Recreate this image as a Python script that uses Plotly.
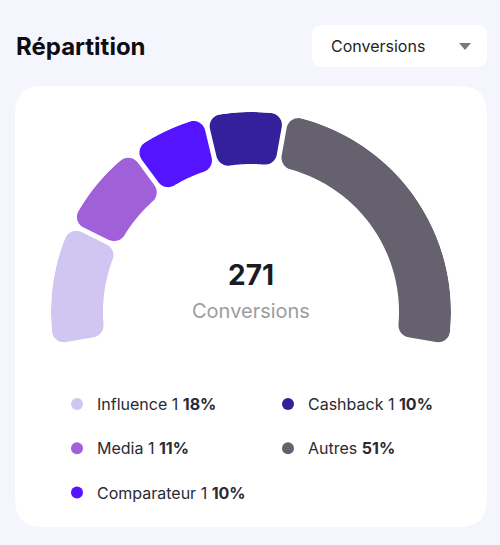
import numpy as np
import plotly.graph_objects as go

# ---------------- data ----------------
categories = ["Influence", "Media", "Comparateur", "Cashback", "Autres"]
arc_share = [18.0, 13.8, 11.5, 11.8, 44.9]      # share of the gauge arc
share_pct = [18, 11, 10, 10, 51]                # percentages shown in the legend
separators = ["1", "1", "1", "1", ""]
colors = ["#D0C6F1", "#A060D8", "#5514FF", "#33209A", "#65616F"]
total_value = 271
metric = "Conversions"
title = "Répartition"

# ---------------- layout constants ----------------
W, H = 500, 545
FONT = "Inter"
CX, CY = 251, 312          # gauge centre (px)
R_OUT, R_IN = 200.0, 148.0
START, SPAN = 190.0, 200.0  # degrees, going clockwise from START
GAP, CR = 5.0, 12.0


def px(x):
    return x / W


def py(y):
    return 1 - y / H


def fillet_pts(C, A, B, r, n=10):
    a = np.arctan2(A[1] - C[1], A[0] - C[0])
    b = np.arctan2(B[1] - C[1], B[0] - C[0])
    d = (b - a + np.pi) % (2 * np.pi) - np.pi
    t = np.linspace(0, 1, n)
    return [C + r * np.array([np.cos(a + d * k), np.sin(a + d * k)]) for k in t]


def corner(phi, hi_edge, rad, outer):
    s = GAP / 2
    a = np.radians(phi)
    u = np.array([np.cos(a), np.sin(a)])
    if hi_edge:
        nrm = np.array([np.sin(a), -np.cos(a)])
    else:
        nrm = np.array([-np.sin(a), np.cos(a)])
    rho = rad - CR if outer else rad + CR
    t = np.sqrt(rho ** 2 - (s + CR) ** 2)
    C = (s + CR) * nrm + t * u
    T_line = C - CR * nrm
    T_circ = C / np.linalg.norm(C) * rad
    return C, T_line, T_circ


def arc_pts(a0, a1, rad, n=60):
    return [rad * np.array([np.cos(t), np.sin(t)]) for t in np.linspace(a0, a1, n)]


def ang(p):
    return np.arctan2(p[1], p[0])


def segment(phi_hi, phi_lo):
    C_ho, L_ho, K_ho = corner(phi_hi, True, R_OUT, True)
    C_hi, L_hi, K_hi = corner(phi_hi, True, R_IN, False)
    C_lo, L_lo, K_lo = corner(phi_lo, False, R_OUT, True)
    C_li, L_li, K_li = corner(phi_lo, False, R_IN, False)
    pts = []
    pts += fillet_pts(C_ho, L_ho, K_ho, CR)
    a0, a1 = ang(K_ho), ang(K_lo)
    if a1 > a0:
        a1 -= 2 * np.pi
    pts += arc_pts(a0, a1, R_OUT)
    pts += fillet_pts(C_lo, K_lo, L_lo, CR)
    pts += fillet_pts(C_li, L_li, K_li, CR)
    b0, b1 = ang(K_li), ang(K_hi)
    if b1 < b0:
        b1 += 2 * np.pi
    pts += arc_pts(b0, b1, R_IN)
    pts += fillet_pts(C_hi, K_hi, L_hi, CR)
    pts.append(pts[0])
    arr = np.array(pts)
    r = np.hypot(arr[:, 0], arr[:, 1])
    th = np.degrees(np.arctan2(arr[:, 1], arr[:, 0]))
    return r, th


fig = go.Figure()

share_total = sum(arc_share)
cum = START
for cat, val, col in zip(categories, arc_share, colors):
    hi = cum
    lo = cum - val / share_total * SPAN
    cum = lo
    r, th = segment(hi, lo)
    fig.add_trace(go.Scatterpolar(
        r=r, theta=th, mode="lines", fill="toself", fillcolor=col,
        line=dict(width=0, color=col), name=cat, showlegend=False,
        hoverinfo="name",
    ))

# legend entries (two columns)
legend_of = ["legend", "legend", "legend", "legend2", "legend2"]
for cat, pct, sep, col, lg in zip(categories, share_pct, separators, colors, legend_of):
    label = f"{cat} {sep} <b>{pct}%</b>" if sep else f"{cat} <b>{pct}%</b>"
    fig.add_trace(go.Scatterpolar(
        r=[None], theta=[None], mode="markers",
        marker=dict(color=col, size=12), name=label,
        legend=lg, legendgroup=cat, showlegend=True,
    ))


def rrect(x0, y0, x1, y1, r):
    pts = [
        f"M{px(x0 + r)},{py(y0)}",
        f"L{px(x1 - r)},{py(y0)}",
        f"Q{px(x1)},{py(y0)} {px(x1)},{py(y0 + r)}",
        f"L{px(x1)},{py(y1 - r)}",
        f"Q{px(x1)},{py(y1)} {px(x1 - r)},{py(y1)}",
        f"L{px(x0 + r)},{py(y1)}",
        f"Q{px(x0)},{py(y1)} {px(x0)},{py(y1 - r)}",
        f"L{px(x0)},{py(y0 + r)}",
        f"Q{px(x0)},{py(y0)} {px(x0 + r)},{py(y0)}",
        "Z",
    ]
    return " ".join(pts)


shapes = [
    dict(type="path", xref="paper", yref="paper", path=rrect(15, 86, 487, 527, 28),
         fillcolor="white", line=dict(width=0), layer="below"),
    dict(type="path", xref="paper", yref="paper", path=rrect(312, 25, 487, 67, 10),
         fillcolor="white", line=dict(width=0), layer="below"),
    dict(type="path", xref="paper", yref="paper",
         path=f"M{px(459)},{py(43)} L{px(471)},{py(43)} L{px(465)},{py(50)} Z",
         fillcolor="#7a7a7a", line=dict(width=0), layer="above"),
]

annotations = [
    dict(text=f"<b>{title}</b>", x=px(14), y=py(46), xref="paper", yref="paper",
         xanchor="left", yanchor="middle", showarrow=False,
         font=dict(family=FONT, size=24, color="#0d0d12")),
    dict(text=metric, x=px(329), y=py(46), xref="paper", yref="paper",
         xanchor="left", yanchor="middle", showarrow=False,
         font=dict(family=FONT, size=16, color="#1f1f26")),
    dict(text=f"<b>{total_value}</b>", x=px(CX), y=py(275), xref="paper", yref="paper",
         xanchor="center", yanchor="middle", showarrow=False,
         font=dict(family=FONT, size=28, color="#1b1b22")),
    dict(text=metric, x=px(CX), y=py(311), xref="paper", yref="paper",
         xanchor="center", yanchor="middle", showarrow=False,
         font=dict(family=FONT, size=20, color="#9d9d9d")),
]

legend_style = dict(
    orientation="v", xanchor="left", yanchor="top",
    bgcolor="rgba(0,0,0,0)", borderwidth=0,
    font=dict(family=FONT, size=16, color="#2a2a33"),
    tracegroupgap=20.5, itemclick=False, itemdoubleclick=False,
)

fig.update_layout(
    width=W, height=H, autosize=False,
    margin=dict(l=0, r=0, t=0, b=0),
    paper_bgcolor="#F5F6FD", plot_bgcolor="rgba(0,0,0,0)",
    font=dict(family=FONT),
    polar=dict(
        domain=dict(x=[px(CX - R_OUT), px(CX + R_OUT)], y=[py(CY + R_OUT), py(CY - R_OUT)]),
        bgcolor="rgba(0,0,0,0)",
        radialaxis=dict(range=[0, R_OUT], visible=False, showgrid=False),
        angularaxis=dict(visible=False, showgrid=False, rotation=0, direction="counterclockwise"),
    ),
    legend=dict(x=px(57), y=py(387), **legend_style),
    legend2=dict(x=px(268), y=py(387), **legend_style),
    shapes=shapes,
    annotations=annotations,
)

fig.write_html("out.html", config={"displayModeBar": False})
